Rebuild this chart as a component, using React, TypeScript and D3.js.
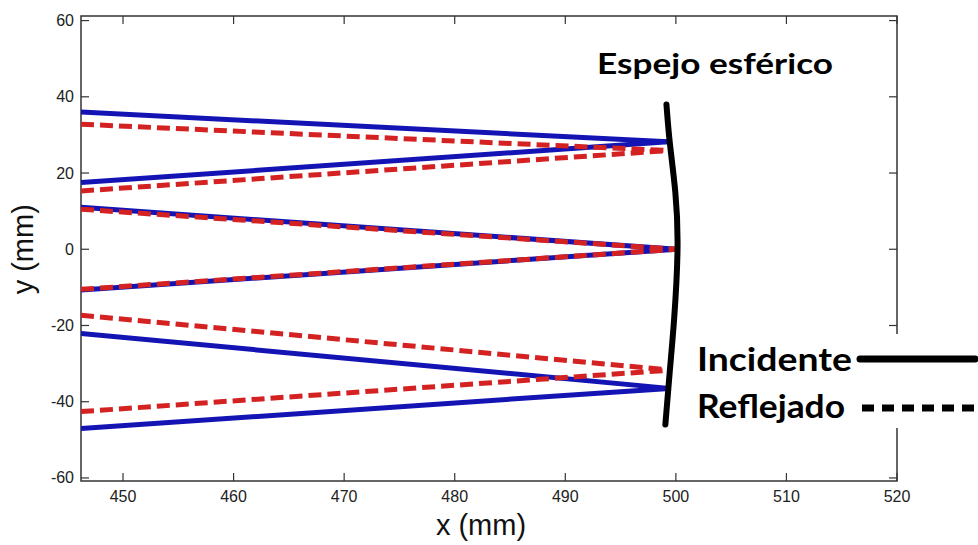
import React from "react";
import * as d3 from "d3";

const W = 978;
const H = 545;

// axis limits and ticks
const xLimits = [446.2, 520];
const yLimits = [-60.8, 61.2];
const xTicks = [450, 460, 470, 480, 490, 500, 510, 520];
const yTicks = [-60, -40, -20, 0, 20, 40, 60];

// rays: start at left edge of the plot, end on the mirror
const rayStartX = 446.2;
const incidentStartY = [36.0, 17.5, 11.0, -10.7, -22.1, -47.0];
const incidentEndX = [499.3, 499.3, 500.1, 500.1, 499.4, 499.4];
const incidentEndY = [28.2, 28.2, 0, 0, -36.5, -36.5];
const reflectedStartY = [32.8, 15.3, 10.5, -10.5, -17.3, -42.6];
const reflectedEndX = [499.35, 499.35, 500.1, 500.1, 499.5, 499.5];
const reflectedEndY = [25.9, 25.9, 0, 0, -31.7, -31.7];

// spherical mirror outline
const mirrorX = [499.15, 499.45, 499.95, 500.15, 499.85, 499.45, 499.05];
const mirrorY = [38, 28, 15, 0, -18, -32, -46];

const legendItems = ["Incidente", "Reflejado"];

const BLUE = "#1414b4";
const RED = "#d42222";
const AXIS = "#333";

const App = () => {
  const left = 81, right = 897, top = 16, bottom = 481;
  const x = d3.scaleLinear().domain(xLimits).range([left, right]);
  const y = d3.scaleLinear().domain(yLimits).range([bottom, top]);

  const line = d3
    .line<[number, number]>()
    .x((d) => x(d[0]))
    .y((d) => y(d[1]));
  const mirrorLine = d3
    .line<[number, number]>()
    .x((d) => x(d[0]))
    .y((d) => y(d[1]))
    .curve(d3.curveNatural);

  const mirrorPts: [number, number][] = mirrorX.map((mx, i) => [mx, mirrorY[i]]);

  return (
    <div style={{ position: "absolute", left: 0, top: 0 }}>
      <svg width={W} height={H} style={{ display: "block", background: "#fff" }}>
        <defs>
          <clipPath id="plot">
            <rect x={left} y={top} width={right - left} height={bottom - top} />
          </clipPath>
        </defs>

        {/* box */}
        <rect x={left} y={top} width={right - left} height={bottom - top}
          fill="none" stroke={AXIS} strokeWidth={1.5} />

        {/* x ticks bottom + top */}
        {xTicks.map((t) => (
          <g key={"x" + t}>
            <line x1={x(t)} x2={x(t)} y1={bottom} y2={bottom - 8} stroke={AXIS} strokeWidth={1.2} />
            <line x1={x(t)} x2={x(t)} y1={top} y2={top + 8} stroke={AXIS} strokeWidth={1.2} />
            <text x={x(t)} y={502} textAnchor="middle" fontSize={16}
              fontFamily="Liberation Sans, Arial, sans-serif" fill="#222">{t}</text>
          </g>
        ))}

        {/* y ticks left + right */}
        {yTicks.map((t) => (
          <g key={"y" + t}>
            <line x1={left} x2={left + 8} y1={y(t)} y2={y(t)} stroke={AXIS} strokeWidth={1.2} />
            <line x1={right} x2={right - 8} y1={y(t)} y2={y(t)} stroke={AXIS} strokeWidth={1.2} />
            <text x={74} y={y(t) + 5.5} textAnchor="end" fontSize={16}
              fontFamily="Liberation Sans, Arial, sans-serif" fill="#222">{t}</text>
          </g>
        ))}

        {/* axis labels */}
        <text x={481} y={535} textAnchor="middle" fontSize={29}
          fontFamily="Liberation Sans, Arial, sans-serif" fill="#111">x (mm)</text>
        <text transform={`translate(33,${y(0)}) rotate(-90)`} textAnchor="middle" fontSize={29}
          fontFamily="Liberation Sans, Arial, sans-serif" fill="#111">y (mm)</text>

        <g clipPath="url(#plot)">
          {incidentStartY.map((sy, i) => (
            <path key={"inc" + i}
              d={line([[rayStartX, sy], [incidentEndX[i], incidentEndY[i]]]) || ""}
              fill="none" stroke={BLUE} strokeWidth={5} />
          ))}
          {reflectedStartY.map((sy, i) => (
            <path key={"ref" + i}
              d={line([[rayStartX, sy], [reflectedEndX[i], reflectedEndY[i]]]) || ""}
              fill="none" stroke={RED} strokeWidth={5} strokeDasharray="13,6" />
          ))}
        </g>

        {/* mirror */}
        <path d={mirrorLine(mirrorPts) || ""} fill="none" stroke="#000" strokeWidth={6}
          strokeLinecap="round" />

        <text x={597} y={74} fontSize={29} fontWeight={700} textLength={236}
          lengthAdjust="spacingAndGlyphs" fontFamily="Lato, 'Open Sans', sans-serif" fill="#000">
          Espejo esférico
        </text>

        {/* legend */}
        <rect x={690} y={334} width={288} height={94} fill="#fff" />
        {legendItems.map((name, i) => (
          <g key={name}>
            <text x={697} y={371 + i * 47} fontSize={32} fontWeight={700}
              textLength={i === 0 ? 155 : 148} lengthAdjust="spacingAndGlyphs"
              fontFamily="Lato, 'Open Sans', sans-serif" fill="#000">{name}</text>
            <line x1={i === 0 ? 860 : 862} x2={975} y1={359 + i * 49} y2={359 + i * 49}
              stroke="#000" strokeWidth={7} strokeLinecap={i === 0 ? "round" : "butt"}
              strokeDasharray={i === 0 ? undefined : "12,8"} />
          </g>
        ))}
      </svg>
    </div>
  );
};

export default App;
